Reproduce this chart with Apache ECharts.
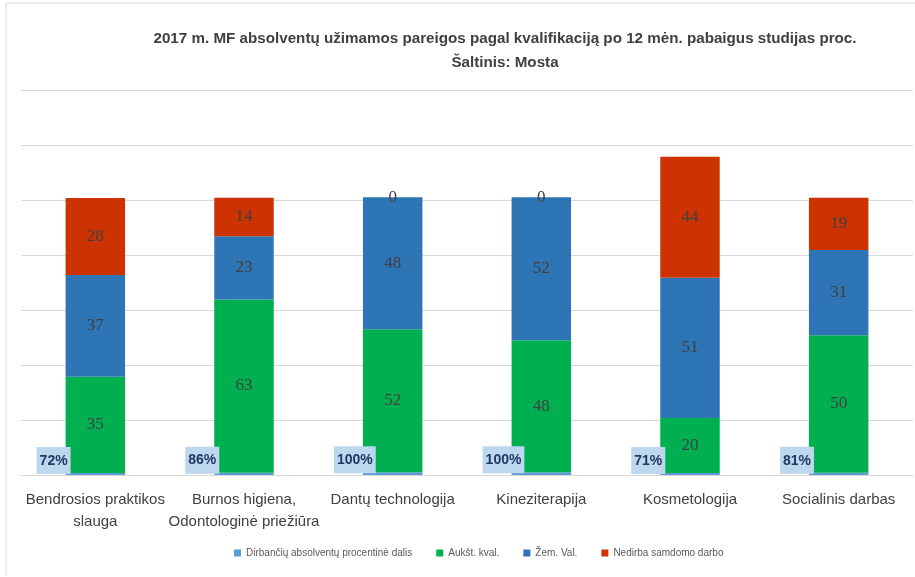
<!DOCTYPE html>
<html>
<head>
<meta charset="utf-8">
<script src="https://cdn.jsdelivr.net/npm/echarts@6/dist/echarts.min.js"></script>
<style>
html, body { margin: 0; padding: 0; background: #fff; }
#main { width: 915px; height: 577px; }
</style>
</head>
<body>
<div id="main"></div>
<script>
var myChart = echarts.init(document.getElementById('main'));

var categories = ['Bendrosios praktikos\nslauga', 'Burnos higiena,\nOdontologinė priežiūra',
    'Dantų technologija', 'Kineziterapija', 'Kosmetologija', 'Socialinis darbas'];

var dirbanciu = [72, 86, 100, 100, 71, 81];   // %
var aukst = [35, 63, 52, 48, 20, 50];
var zem = [37, 23, 48, 52, 51, 31];
var nedirba = [28, 14, 0, 0, 44, 19];

var sans = "'Liberation Sans', 'Noto Sans', sans-serif";
var valueLabel = {
    show: true,
    position: 'inside',
    color: '#404040',
    fontFamily: "'Liberation Serif', serif",
    fontSize: 17
};

option = {
    backgroundColor: '#fff',
    title: {
        text: '2017 m. MF absolventų užimamos pareigos pagal kvalifikaciją po 12 mėn. pabaigus studijas proc.\nŠaltinis: Mosta',
        left: 500,
        top: 22,
        textAlign: 'center',
        textStyle: {
            fontFamily: sans,
            fontSize: 15.2,
            fontWeight: 'bold',
            color: '#404040',
            lineHeight: 24
        }
    },
    grid: {
        left: 21,
        right: 2,
        top: 90,
        bottom: 102
    },
    legend: {
        bottom: 14,
        left: 229,
        itemWidth: 7,
        itemHeight: 7,
        itemGap: 24,
        icon: 'rect',
        textStyle: {
            fontSize: 10,
            color: '#595959',
            fontFamily: sans
        },
        data: ['Dirbančių absolventų procentinė dalis', 'Aukšt. kval.', 'Žem. Val.', 'Nedirba samdomo darbo']
    },
    xAxis: {
        type: 'category',
        data: categories,
        axisLine: { lineStyle: { color: '#D9D9D9' } },
        axisTick: { show: false },
        axisLabel: {
            color: '#404040',
            fontSize: 15,
            fontFamily: sans,
            lineHeight: 22,
            margin: 14,
            interval: 0
        }
    },
    yAxis: {
        type: 'value',
        min: 0,
        max: 140,
        interval: 20,
        axisLabel: { show: false },
        axisLine: { show: false },
        axisTick: { show: false },
        splitLine: { lineStyle: { color: '#D9D9D9', width: 1 } }
    },
    series: [
        {
            name: 'Dirbančių absolventų procentinė dalis',
            type: 'bar',
            stack: 'total',
            barWidth: '40%',
            data: dirbanciu.map(function (v) { return v / 100; }),
            itemStyle: { color: '#5B9BD5' },
            label: {
                show: true,
                position: [-29, -26],
                formatter: function (p) { return dirbanciu[p.dataIndex] + '%'; },
                backgroundColor: '#BDD7EE',
                color: '#1F3864',
                fontWeight: 'bold',
                fontFamily: sans,
                fontSize: 14,
                padding: [7, 3, 6, 3]
            }
        },
        {
            name: 'Aukšt. kval.',
            type: 'bar',
            stack: 'total',
            data: aukst,
            itemStyle: { color: '#00B050' },
            label: valueLabel
        },
        {
            name: 'Žem. Val.',
            type: 'bar',
            stack: 'total',
            data: zem,
            itemStyle: { color: '#2E75B6' },
            label: valueLabel
        },
        {
            name: 'Nedirba samdomo darbo',
            type: 'bar',
            stack: 'total',
            data: nedirba,
            itemStyle: { color: '#CC3300' },
            label: valueLabel
        }
    ],
    graphic: [{
        type: 'polyline',
        shape: { points: [[6, 576], [6, 3], [915, 3]] },
        style: { stroke: '#D9D9D9', fill: null, lineWidth: 1 },
        silent: true
    }]
};
myChart.setOption(option);
</script>
</body>
</html>
